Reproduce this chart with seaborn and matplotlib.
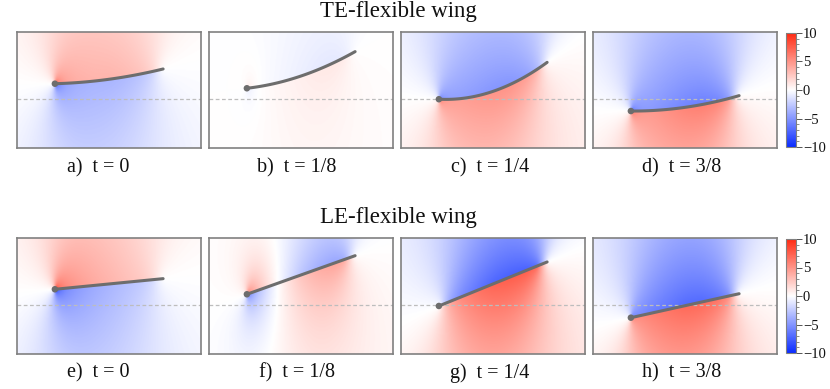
import numpy as np
import matplotlib
matplotlib.use("Agg")
import matplotlib.pyplot as plt
from matplotlib.colors import LinearSegmentedColormap
from matplotlib.ticker import MultipleLocator
import seaborn as sns

# ---------------- data ----------------
row_titles = ["TE-flexible wing", "LE-flexible wing"]
labels = [["a)  t = 0", "b)  t = 1/8", "c)  t = 1/4", "d)  t = 3/8"],
          ["e)  t = 0", "f)  t = 1/8", "g)  t = 1/4", "h)  t = 3/8"]]

# wing shape: y = le_y + slope*xi + bend*xi^2  (xi = chordwise 0..1)
le_y_te = [0.143, 0.101, 0.000, -0.109]
slope_te = [0.028, 0.114, -0.05, -0.006]
bend_te = [0.108, 0.224, 0.39, 0.148]
le_y_le = [0.147, 0.101, -0.007, -0.115]
slope_le = [0.098, 0.356, 0.406, 0.221]
bend_le = [0.0, 0.0, 0.0, 0.0]

# pressure jump (upper minus lower) along the chord, at these chord stations
jump_stations = [0.0, 0.03, 0.1, 0.2, 0.35, 0.5, 0.65, 0.8, 0.9, 1.0]
jump_te = [[20, 11, 8.5, 7.5, 7, 7, 6.5, 5.5, 4, 0],
           [3, 1, 0, -0.5, -1, -1.5, -2, -2.2, -1.8, 0],
           [-16, -10, -9, -9, -9.5, -10, -10, -9, -7, 0],
           [-18, -11, -9.5, -9.5, -10.5, -11.5, -12, -11.5, -9.5, 0]]
jump_le = [[24, 14, 11, 9.5, 8, 7, 6, 5, 3.5, 0],
           [16, 10, 6, 2.5, -2, -5.5, -7.5, -8.5, -8, 0],
           [0, -4, -8.5, -11, -13, -14.5, -15, -15, -14, 0],
           [-14, -11, -11, -12, -13, -14, -14, -13, -11, 0]]

cbar_ticks = [-10, -5, 0, 5, 10]
x_range = (-0.35, 1.35)
y_range = (-0.45, 0.62)

# ---------------- style ----------------
sns.set_theme(style="white")
plt.rcParams["font.family"] = ["Liberation Serif", "DejaVu Serif"]

cmap = LinearSegmentedColormap.from_list(
    "pr", ["#0a2cff", "#ffffff", "#ff2a12"])

SQUEEZE = 0.45


def pressure_field(X, Y, yle, a, b, jn, n=200):
    s = np.linspace(0.0, 1.0, n + 1)
    J = np.interp(s, jump_stations, jn)
    gam = np.diff(np.concatenate([[0.0], J]))
    yte = yle + a + b
    ycut = np.where(X <= 1.0,
                    np.where(X < 0, yle + a * X, yle + a * X + b * X ** 2),
                    yte + (a + 2 * b) * (X - 1.0))
    eta = (Y - ycut) * SQUEEZE
    P = np.zeros_like(X)
    for k in range(len(s)):
        if gam[k] == 0:
            continue
        th = np.mod(np.arctan2(eta, X - s[k]), 2 * np.pi)
        P += gam[k] * (np.pi - th) / (2 * np.pi)
    return P


W, H = 830, 389
fig = plt.figure(figsize=(W / 100, H / 100), dpi=100)

lefts = [17, 209, 401, 593]
tops = [32, 238]
pw, ph = 184, 116
label_cx = [98, 297, 490, 682]
label_y = [168, 373]
title_y = [12, 218]

nx, ny = 276, 174
xg = np.linspace(x_range[0], x_range[1], nx)
yg = np.linspace(y_range[0], y_range[1], ny)
X, Y = np.meshgrid(xg, yg)

rows = [(le_y_te, slope_te, bend_te, jump_te),
        (le_y_le, slope_le, bend_le, jump_le)]

for r, (ly, sl, bd, jp) in enumerate(rows):
    for c in range(4):
        ax = fig.add_axes([lefts[c] / W, 1 - (tops[r] + ph) / H, pw / W, ph / H])
        P = pressure_field(X, Y, ly[c], sl[c], bd[c], jp[c])
        im = ax.imshow(P, extent=[x_range[0], x_range[1], y_range[0], y_range[1]],
                       origin="lower", cmap=cmap, vmin=-10, vmax=10,
                       interpolation="bilinear", aspect="auto")
        ax.axhline(0, color="#bdbdbd", lw=0.9, ls=(0, (3, 2)))
        xi = np.linspace(0, 1, 60)
        yw = ly[c] + sl[c] * xi + bd[c] * xi ** 2
        sns.lineplot(x=xi, y=yw, ax=ax, color="#6d6d6d", lw=2.2, sort=False)
        sns.scatterplot(x=[0.0], y=[ly[c]], ax=ax, color="#6d6d6d", s=22,
                        edgecolor="none", zorder=5)
        ax.set_xlim(*x_range)
        ax.set_ylim(*y_range)
        ax.set_xticks([])
        ax.set_yticks([])
        for sp in ax.spines.values():
            sp.set_visible(True)
            sp.set_color("#808080")
            sp.set_linewidth(1.2)
        fig.text(label_cx[c] / W, 1 - label_y[r] / H, labels[r][c],
                 ha="center", va="center", fontsize=14.5, color="#111111")
    fig.text(398 / W, 1 - title_y[r] / H, row_titles[r], ha="center",
             va="center", fontsize=16.5, color="#111111")
    cax = fig.add_axes([786 / W, 1 - (tops[r] + 115) / H, 10 / W, 114 / H])
    cb = fig.colorbar(im, cax=cax, ticks=cbar_ticks)
    cb.ax.yaxis.set_minor_locator(MultipleLocator(1))
    cb.ax.tick_params(which="major", length=4, width=0.7, colors="#555555",
                      labelsize=10.5, labelcolor="#111111", pad=1)
    cb.ax.tick_params(which="minor", length=2.5, width=0.6, colors="#777777")
    cb.outline.set_edgecolor("#808080")
    cb.outline.set_linewidth(0.8)

fig.savefig("out.png", dpi=100)
